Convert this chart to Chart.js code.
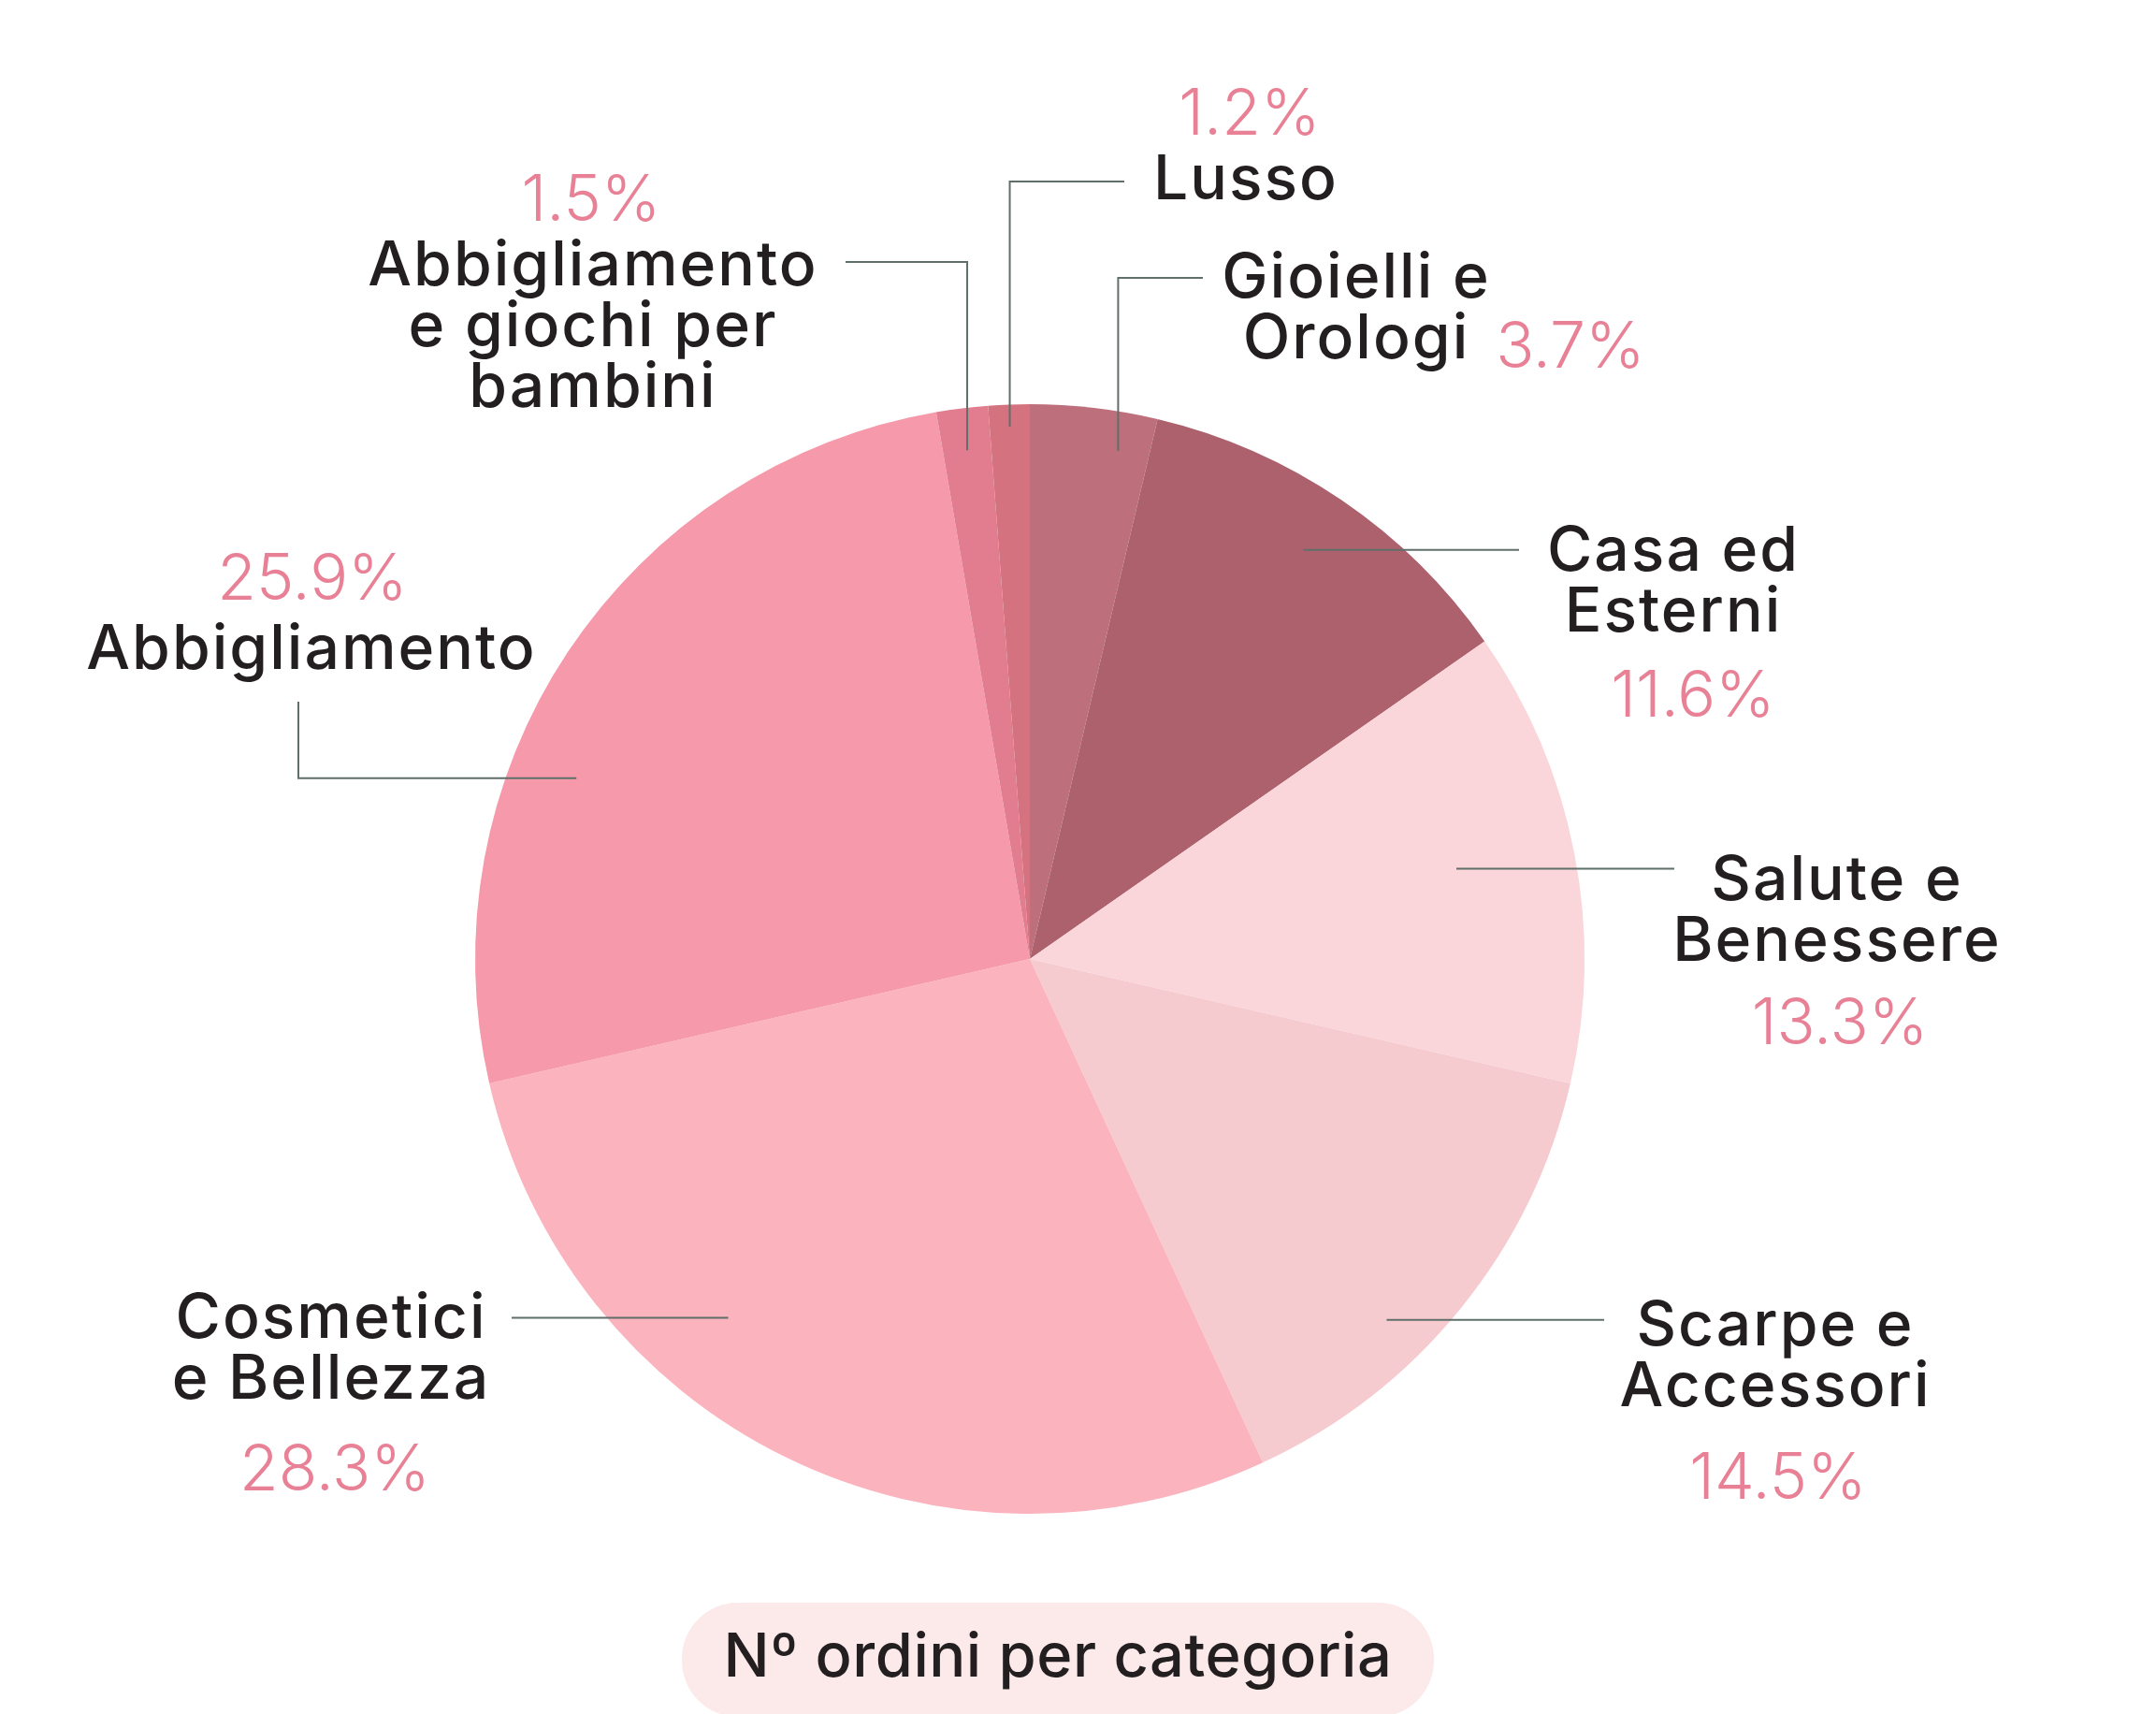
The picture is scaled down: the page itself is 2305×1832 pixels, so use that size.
<!DOCTYPE html>
<html>
<head>
<meta charset="utf-8">
<script src="https://cdn.jsdelivr.net/npm/chart.js@4.4.1/dist/chart.umd.min.js"></script>
<style>
  html, body { margin: 0; padding: 0; background: #fff; }
  canvas { display: block; }
</style>
</head>
<body>
<canvas id="chart" width="2305" height="1832"></canvas>
<script>
// data, clockwise from 12 o'clock
const categories = [
  "Gioielli e Orologi", "Casa ed Esterni", "Salute e Benessere", "Scarpe e Accessori",
  "Cosmetici e Bellezza", "Abbigliamento", "Abbigliamento e giochi per bambini", "Lusso"
];
const shares = [3.7, 11.6, 13.3, 14.5, 28.3, 25.9, 1.5, 1.2];
const labelLines = [
  ["Gioielli e", "Orologi"], ["Casa ed", "Esterni"], ["Salute e", "Benessere"],
  ["Scarpe e", "Accessori"], ["Cosmetici", "e Bellezza"], ["Abbigliamento"],
  ["Abbigliamento", "e giochi per", "bambini"], ["Lusso"]
];
const chartTitle = "Nº ordini per categoria";

const sliceColors = [
  "#bd6f7c", "#ad616d", "#fad5da", "#f6cbcf",
  "#fbb3be", "#f699aa", "#e27c8f", "#d4737f"
];

// where each callout sits (t = position along the slice, rf = fraction of radius)
const callouts = [
  { t: 0.74, rf: 0.93, route: [["v", 297], ["h", 1286]], text: [1450, 318], pct: [1679, 393] },
  { t: 0.49, rf: 0.887, route: [["h", 1624]], text: [1789, 610], pct: [1810, 766] },
  { t: 0.48, rf: 0.786, route: [["h", 1790]], text: [1964, 962], pct: [1967, 1116] },
  { t: 0.62, rf: 0.915, route: [["h", 1715]], text: [1898, 1438], pct: [1901, 1602] },
  { t: 0.637, rf: 0.845, route: [["h", 547]], text: [354, 1430], pct: [358, 1593] },
  { t: 0.372, rf: 0.88, route: [["h", 319], ["v", 750]], text: [333, 715], pct: [334, 641] },
  { t: 0.5, rf: 0.924, route: [["v", 280], ["h", 904]], text: [634, 305], pct: [632, 236] },
  { t: 0.5, rf: 0.96, route: [["v", 194], ["h", 1202]], text: [1332, 213], pct: [1336, 144] }
];

const FONT = "Inter, 'Noto Sans', sans-serif";
const LINE_H = 65;

const calloutPlugin = {
  id: "callouts",
  beforeDraw (chart) {
    const ctx = chart.ctx;
    // title pill
    ctx.save();
    ctx.fillStyle = "#fce9ea";
    ctx.beginPath();
    ctx.roundRect(729, 1713, 804, 122, 60);
    ctx.fill();
    ctx.restore();
  },
  afterDraw (chart) {
    const ctx = chart.ctx;
    const arcs = chart.getDatasetMeta(0).data;

    ctx.save();
    ctx.strokeStyle = "#5f6f69";
    ctx.lineWidth = 2;
    callouts.forEach((c, i) => {
      const a = arcs[i].getProps(["x", "y", "startAngle", "endAngle", "outerRadius"], true);
      const ang = a.startAngle + (a.endAngle - a.startAngle) * c.t;
      let px = a.x + Math.cos(ang) * a.outerRadius * c.rf;
      let py = a.y + Math.sin(ang) * a.outerRadius * c.rf;
      ctx.beginPath();
      ctx.moveTo(px, py);
      c.route.forEach(([dir, v]) => {
        if (dir === "v") py = v; else px = v;
        ctx.lineTo(px, py);
      });
      ctx.stroke();
    });

    ctx.textAlign = "center";
    ctx.textBaseline = "alphabetic";
    callouts.forEach((c, i) => {
      ctx.fillStyle = "#231f20";
      ctx.font = "500 66px " + FONT;
      ctx.letterSpacing = "2px";
      labelLines[i].forEach((line, k) => {
        ctx.fillText(line, c.text[0], c.text[1] + k * LINE_H);
      });
      ctx.fillStyle = "#e88196";
      ctx.font = "300 68px " + FONT;
      ctx.letterSpacing = "0px";
      ctx.fillText(shares[i].toFixed(1) + "%", c.pct[0], c.pct[1]);
    });

    ctx.fillStyle = "#231f20";
    ctx.font = "500 65px " + FONT;
    ctx.letterSpacing = "0.5px";
    ctx.fillText(chartTitle, 1131, 1792);
    ctx.restore();
  }
};

new Chart(document.getElementById("chart").getContext("2d"), {
  type: "pie",
  data: {
    labels: categories,
    datasets: [{
      data: shares,
      backgroundColor: sliceColors,
      borderWidth: 0
    }]
  },
  options: {
    responsive: false,
    animation: false,
    layout: { padding: { left: 508, right: 611, top: 432, bottom: 214 } },
    plugins: {
      legend: { display: false },
      tooltip: { enabled: false }
    }
  },
  plugins: [calloutPlugin]
});
</script>
</body>
</html>
